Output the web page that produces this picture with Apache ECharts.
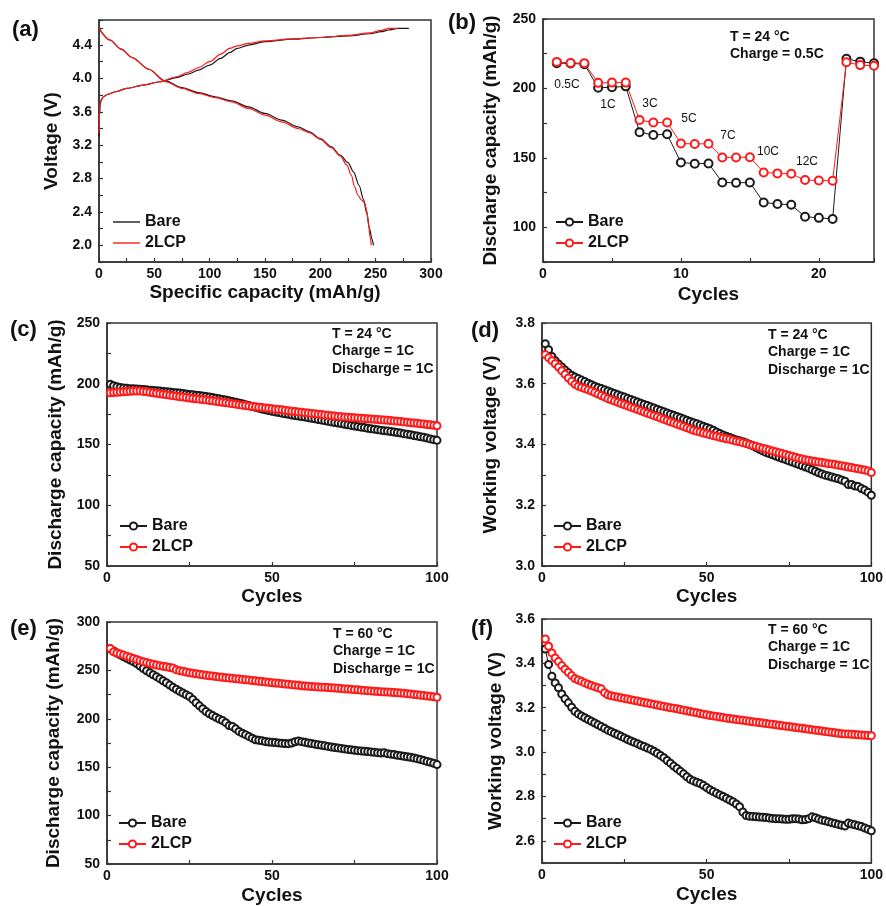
<!DOCTYPE html>
<html>
<head>
<meta charset="utf-8">
<script src="https://cdn.jsdelivr.net/npm/echarts@6/dist/echarts.min.js"></script>
<style>
html,body{margin:0;padding:0;background:#fff;}
#chart{width:886px;height:906px;}
</style>
</head>
<body>
<div id="chart"></div>
<script>
// ---------- DATA ----------
// (a) charge / discharge profiles (capacity mAh/g, voltage V)
const aBareChargeCap = [0, 0.5, 1, 2, 4, 8, 15, 25, 40, 55, 70, 80, 90, 100, 110, 118, 125, 135, 150, 175, 200, 225, 245, 255, 262, 270, 280];
const aBareChargeV   = [3.30, 3.55, 3.68, 3.74, 3.78, 3.81, 3.84, 3.88, 3.92, 3.96, 4.01, 4.05, 4.10, 4.16, 4.24, 4.31, 4.36, 4.40, 4.44, 4.47, 4.49, 4.51, 4.535, 4.56, 4.58, 4.60, 4.60];
const aLcpChargeCap  = [0, 0.5, 1, 2, 4, 8, 15, 25, 40, 55, 70, 80, 90, 100, 110, 118, 125, 135, 150, 175, 200, 225, 245, 255, 262, 270];
const aLcpChargeV    = [3.35, 3.60, 3.70, 3.75, 3.78, 3.81, 3.84, 3.88, 3.92, 3.96, 4.02, 4.07, 4.13, 4.20, 4.29, 4.36, 4.39, 4.42, 4.45, 4.475, 4.49, 4.515, 4.545, 4.575, 4.60, 4.60];
const aBareDisCap = [0, 10, 20, 30, 45, 60, 75, 90, 105, 120, 135, 150, 165, 180, 190, 200, 210, 218, 225, 230, 235, 239, 242, 244.5, 246.5, 248];
const aBareDisV   = [4.60, 4.46, 4.35, 4.25, 4.11, 3.97, 3.89, 3.83, 3.78, 3.73, 3.66, 3.58, 3.50, 3.42, 3.36, 3.28, 3.18, 3.08, 2.99, 2.88, 2.72, 2.55, 2.38, 2.20, 2.08, 2.00];
const aLcpDisCap  = [0, 10, 20, 30, 45, 60, 75, 90, 105, 120, 135, 150, 165, 180, 190, 200, 210, 218, 224, 228, 231, 234, 237, 240, 242, 243.5, 245, 246];
const aLcpDisV    = [4.60, 4.46, 4.35, 4.25, 4.11, 3.96, 3.88, 3.82, 3.77, 3.72, 3.64, 3.56, 3.48, 3.40, 3.35, 3.27, 3.17, 3.07, 2.96, 2.84, 2.70, 2.60, 2.545, 2.51, 2.42, 2.25, 2.10, 2.00];

// (b) rate capability, cycles 1..24
const bCycles = [1,2,3,4,5,6,7,8,9,10,11,12,13,14,15,16,17,18,19,20,21,22,23,24];
const bBare = [218.2, 218.0, 217.5, 200.5, 200.8, 201.5, 168.5, 166.5, 167.0, 146.7, 145.8, 146.0, 132.3, 132.0, 132.3, 117.8, 116.8, 116.2, 107.6, 106.8, 106.0, 221.3, 219.3, 218.1];
const bLcp  = [219.1, 218.4, 218.2, 204.0, 204.2, 204.2, 177.2, 175.5, 175.5, 160.4, 160.0, 160.2, 150.3, 150.3, 150.5, 139.5, 138.8, 138.5, 134.0, 133.7, 133.5, 218.9, 216.8, 216.3];
const bRateLabels = ['0.5C', '1C', '3C', '5C', '7C', '10C', '12C'];

// cycles 1..100 for (c)-(f)
const cycles100 = Array.from({length: 100}, (_, i) => i + 1);

// (c) discharge capacity, 24 °C
const cBare = [199.5,198.4,197.6,196.9,196.4,196.2,195.9,195.8,195.6,195.4,
  195.3,195.0,194.7,194.5,194.2,194.0,193.7,193.5,193.2,192.9,
  192.6,192.3,191.9,191.6,191.2,190.9,190.6,190.3,189.9,189.5,
  189.0,188.6,188.1,187.6,187.1,186.6,186.0,185.4,184.8,184.2,
  183.5,182.8,182.1,181.3,180.6,179.9,179.2,178.5,177.9,177.3,
  176.8,176.3,175.8,175.3,174.8,174.3,173.8,173.4,173.0,172.6,
  172.1,171.6,171.1,170.6,170.1,169.6,169.1,168.6,168.1,167.6,
  167.2,166.7,166.2,165.7,165.2,164.8,164.3,163.9,163.4,163.0,
  162.6,162.2,161.8,161.4,161.1,160.6,160.2,159.8,159.4,158.9,
  158.5,158.0,157.4,157.0,156.4,155.9,155.3,154.6,154.0,153.4];
const cLcp = [192.6,192.8,193.0,193.2,193.4,193.6,193.8,194.0,194.1,194.0,
  193.7,193.4,193.0,192.6,192.2,191.8,191.4,191.0,190.6,190.2,
  189.8,189.4,189.0,188.6,188.2,187.9,187.6,187.3,187.0,186.7,
  186.3,186.0,185.6,185.2,184.8,184.4,184.0,183.6,183.2,182.8,
  182.4,182.0,181.6,181.3,181.0,180.7,180.4,180.1,179.8,179.5,
  179.1,178.8,178.5,178.1,177.8,177.4,177.1,176.8,176.5,176.2,
  175.9,175.6,175.3,175.0,174.7,174.3,174.0,173.7,173.4,173.1,
  172.9,172.7,172.4,172.2,172.0,171.8,171.6,171.4,171.2,171.0,
  170.8,170.6,170.4,170.1,169.9,169.7,169.4,169.2,168.9,168.6,
  168.3,168.0,167.7,167.4,167.1,166.8,166.5,166.2,165.8,165.4];

// (d) working voltage, 24 °C
const dBare = [3.732,3.712,3.690,3.676,3.665,3.655,3.645,3.636,3.628,3.622,
  3.617,3.612,3.607,3.602,3.597,3.592,3.588,3.584,3.580,3.576,
  3.572,3.568,3.564,3.560,3.556,3.552,3.548,3.544,3.540,3.536,
  3.532,3.528,3.524,3.520,3.516,3.512,3.508,3.504,3.500,3.496,
  3.492,3.488,3.484,3.480,3.476,3.472,3.468,3.464,3.460,3.456,
  3.452,3.447,3.441,3.436,3.431,3.427,3.423,3.419,3.415,3.412,
  3.409,3.405,3.401,3.396,3.390,3.384,3.379,3.374,3.370,3.366,
  3.362,3.358,3.354,3.350,3.346,3.342,3.338,3.334,3.330,3.326,
  3.322,3.317,3.312,3.307,3.303,3.299,3.296,3.293,3.290,3.287,
  3.283,3.279,3.268,3.268,3.263,3.262,3.255,3.250,3.243,3.233];
const dLcp = [3.696,3.686,3.676,3.666,3.655,3.643,3.631,3.619,3.608,3.598,
  3.592,3.588,3.584,3.580,3.576,3.571,3.566,3.561,3.556,3.551,
  3.547,3.543,3.539,3.535,3.531,3.527,3.523,3.519,3.515,3.511,
  3.507,3.503,3.499,3.495,3.491,3.487,3.483,3.479,3.475,3.471,
  3.467,3.463,3.459,3.455,3.451,3.447,3.444,3.441,3.438,3.435,
  3.432,3.429,3.427,3.424,3.421,3.419,3.417,3.414,3.411,3.409,
  3.406,3.403,3.400,3.397,3.394,3.391,3.388,3.385,3.382,3.379,
  3.376,3.373,3.370,3.367,3.364,3.361,3.358,3.355,3.352,3.350,
  3.348,3.346,3.344,3.342,3.341,3.339,3.337,3.336,3.334,3.332,
  3.330,3.328,3.326,3.324,3.322,3.320,3.318,3.316,3.313,3.308];

// (e) discharge capacity, 60 °C
const eBare = [272.0,270.0,268.0,266.0,264.2,262.5,260.8,259.0,257.0,254.5,
  252.0,249.6,247.5,245.5,243.5,241.5,239.3,237.2,234.8,232.5,
  230.5,228.5,226.6,224.8,223.0,220.0,216.6,213.4,210.5,207.5,
  205.2,203.3,201.5,199.8,198.3,196.0,193.0,192.1,189.6,187.0,
  185.2,183.6,181.8,180.0,178.4,177.8,177.3,176.6,176.0,175.7,
  175.5,175.1,174.8,174.5,174.3,175.0,176.3,177.0,176.4,175.7,
  175.0,174.4,173.8,173.2,172.6,172.1,171.5,170.9,170.4,169.9,
  169.4,168.9,168.4,167.9,167.5,167.1,166.8,166.5,166.1,165.8,
  165.4,165.0,164.6,164.9,164.0,163.5,163.0,162.4,161.9,161.3,
  160.8,160.3,159.6,158.8,157.9,157.0,156.0,155.0,154.0,152.7];
const eLcp = [272.6,269.2,268.0,266.9,265.8,264.7,263.5,262.4,261.2,260.0,
  259.0,258.1,257.2,256.3,255.5,254.9,254.3,253.8,253.0,252.4,
  250.8,249.7,249.0,248.3,247.6,247.0,246.5,245.9,245.4,244.9,
  244.5,244.1,243.7,243.3,242.9,242.5,242.1,241.8,241.4,241.1,
  240.7,240.3,240.0,239.6,239.2,238.8,238.5,238.1,237.7,237.3,
  237.0,236.6,236.3,235.9,235.6,235.3,234.9,234.6,234.2,233.9,
  233.6,233.4,233.2,232.9,232.7,232.5,232.3,232.0,231.8,231.5,
  231.2,230.9,230.7,230.4,230.1,229.9,229.6,229.3,229.1,228.8,
  228.5,228.3,228.0,227.8,227.6,227.4,227.1,226.9,226.6,226.4,
  226.0,225.6,225.2,224.8,224.4,224.0,223.6,223.2,222.8,222.3];

// (f) working voltage, 60 °C
const fBare = [3.465,3.395,3.342,3.312,3.290,3.262,3.240,3.222,3.202,3.184,
  3.172,3.163,3.155,3.147,3.139,3.131,3.123,3.115,3.107,3.099,
  3.092,3.085,3.078,3.071,3.064,3.057,3.050,3.044,3.038,3.031,
  3.025,3.018,3.012,3.004,2.995,2.985,2.975,2.962,2.950,2.937,
  2.926,2.914,2.902,2.889,2.877,2.870,2.864,2.858,2.850,2.840,
  2.830,2.822,2.814,2.807,2.800,2.792,2.784,2.776,2.766,2.754,
  2.730,2.714,2.711,2.710,2.708,2.707,2.706,2.705,2.703,2.701,
  2.700,2.699,2.698,2.697,2.697,2.699,2.700,2.698,2.695,2.696,
  2.700,2.708,2.704,2.698,2.693,2.690,2.686,2.682,2.678,2.674,
  2.670,2.667,2.680,2.676,2.672,2.668,2.664,2.658,2.652,2.645];
const fLcp = [3.510,3.477,3.447,3.424,3.408,3.390,3.374,3.360,3.345,3.332,
  3.325,3.319,3.312,3.306,3.300,3.295,3.290,3.285,3.268,3.258,
  3.254,3.251,3.248,3.245,3.242,3.239,3.236,3.233,3.230,3.227,
  3.224,3.221,3.218,3.215,3.212,3.209,3.206,3.203,3.200,3.198,
  3.195,3.192,3.189,3.186,3.183,3.180,3.177,3.174,3.171,3.168,
  3.165,3.163,3.161,3.158,3.156,3.153,3.151,3.149,3.147,3.145,
  3.143,3.141,3.139,3.137,3.135,3.133,3.131,3.129,3.127,3.125,
  3.123,3.121,3.119,3.117,3.115,3.113,3.111,3.109,3.107,3.105,
  3.103,3.101,3.099,3.097,3.095,3.093,3.091,3.089,3.087,3.085,
  3.083,3.082,3.081,3.080,3.079,3.078,3.077,3.076,3.075,3.074];

const seriesNames = ['Bare', '2LCP'];
const panelLetters = ['(a)', '(b)', '(c)', '(d)', '(e)', '(f)'];
const annotB = ['T = 24 °C', 'Charge = 0.5C'];
const annot24 = ['T = 24 °C', 'Charge = 1C', 'Discharge = 1C'];
const annot60 = ['T = 60 °C', 'Charge = 1C', 'Discharge = 1C'];

// ---------- CHART ----------
const FONT = '"Liberation Sans", Arial, Helvetica, sans-serif';
const INK = '#111';
const AXC = '#333';
const BLACK = '#1a1a1a';
const RED = '#ff1a1a';

const zip = (xs, ys) => xs.map((x, i) => [x, ys[i]]);
const onStep = (v, step) => Math.abs(v / step - Math.round(v / step)) < 1e-6;

function mkGrid(l, t, w, h) {
  return {left: l, top: t, width: w, height: h, show: true, borderColor: AXC, borderWidth: 1.5, backgroundColor: 'transparent', containLabel: false};
}
function mkAxis(dim, gi, min, max, interval, step, dec, name, nameGap) {
  return {
    type: 'value', gridIndex: gi, min: min, max: max, interval: interval,
    position: dim === 'x' ? 'bottom' : 'left',
    name: name, nameLocation: 'middle', nameGap: nameGap,
    nameTextStyle: {fontFamily: FONT, fontWeight: 'bold', fontSize: 19, color: INK},
    axisLine: {show: true, onZero: false, lineStyle: {color: AXC, width: 1.5}},
    axisTick: {show: true, inside: true, length: 4, lineStyle: {color: AXC, width: 1.2}},
    splitLine: {show: false},
    axisLabel: {
      show: true, margin: dim === 'x' ? 5 : 7,
      fontFamily: FONT, fontWeight: 'bold', fontSize: 14, color: INK,
      showMinLabel: true, showMaxLabel: true,
      formatter: v => onStep(v, step) ? v.toFixed(dec) : ''
    }
  };
}
function lineSeries(name, gi, data, color) {
  return {
    type: 'line', name: name, xAxisIndex: gi, yAxisIndex: gi, data: data,
    symbol: 'none', smooth: 0.3, smoothMonotone: 'x',
    lineStyle: {color: color, width: 1.2}, itemStyle: {color: color},
    z: 3
  };
}
function scatterLine(name, gi, xs, ys, color, size) {
  return {
    type: 'line', name: name, xAxisIndex: gi, yAxisIndex: gi, data: zip(xs, ys),
    symbol: 'emptyCircle', symbolSize: size, showAllSymbol: true,
    lineStyle: {color: color, width: 1},
    itemStyle: {color: color, borderColor: color, borderWidth: 1.3},
    z: 3
  };
}
function mkLegend(panel, left, top, lineOnly) {
  const lg = {
    data: seriesNames.map(n => n + '@' + panel),
    formatter: n => n.split('@')[0],
    orient: 'vertical', left: left, top: top, padding: 0,
    itemWidth: 27, itemHeight: 9, itemGap: 5, selectedMode: false,
    textStyle: {fontFamily: FONT, fontWeight: 'bold', fontSize: 16, color: INK}
  };
  if (lineOnly) {
    lg.icon = 'rect';
    lg.itemHeight = 1.4;
    lg.itemGap = 5;
  }
  return lg;
}
function txt(s, x, y, size, weight, align) {
  return {type: 'text', x: x, y: y, silent: true,
    style: {text: s, fill: INK, font: (weight || 'bold') + ' ' + size + 'px ' + FONT,
      textAlign: align || 'left', textVerticalAlign: 'middle'}};
}

const grids = [
  mkGrid(99, 20, 332, 242),
  mkGrid(543, 19, 331, 243),
  mkGrid(107, 323, 330, 243),
  mkGrid(542, 323, 332, 243),
  mkGrid(107, 622, 330, 243),
  mkGrid(542, 619, 332, 244)
];
const xAxes = [
  mkAxis('x', 0, 0, 300, 25, 50, 0, 'Specific capacity (mAh/g)', 21),
  mkAxis('x', 1, 0, 24, 5, 10, 0, 'Cycles', 23),
  mkAxis('x', 2, 0, 100, 25, 50, 0, 'Cycles', 21),
  mkAxis('x', 3, 0, 100, 25, 50, 0, 'Cycles', 21),
  mkAxis('x', 4, 0, 100, 25, 50, 0, 'Cycles', 22),
  mkAxis('x', 5, 0, 100, 25, 50, 0, 'Cycles', 22)
];
const yAxes = [
  mkAxis('y', 0, 1.8, 4.7, 0.2, 0.4, 1, 'Voltage (V)', 38),
  mkAxis('y', 1, 75, 250, 25, 50, 0, 'Discharge capacity (mAh/g)', 43),
  mkAxis('y', 2, 50, 250, 25, 50, 0, 'Discharge capacity (mAh/g)', 42),
  mkAxis('y', 3, 3.0, 3.8, 0.1, 0.2, 1, 'Working voltage (V)', 42),
  mkAxis('y', 4, 50, 300, 25, 50, 0, 'Discharge capacity (mAh/g)', 44),
  mkAxis('y', 5, 2.5, 3.6, 0.1, 0.2, 1, 'Working voltage (V)', 37)
];

const series = [
  lineSeries('Bare@a', 0, zip(aBareChargeCap, aBareChargeV), BLACK),
  lineSeries('Bare@a', 0, zip(aBareDisCap, aBareDisV), BLACK),
  lineSeries('2LCP@a', 0, zip(aLcpChargeCap, aLcpChargeV), RED),
  lineSeries('2LCP@a', 0, zip(aLcpDisCap, aLcpDisV), RED),
  scatterLine('Bare@b', 1, bCycles, bBare, BLACK, 8),
  scatterLine('2LCP@b', 1, bCycles, bLcp, RED, 8),
  scatterLine('Bare@c', 2, cycles100, cBare, BLACK, 7),
  scatterLine('2LCP@c', 2, cycles100, cLcp, RED, 7),
  scatterLine('Bare@d', 3, cycles100, dBare, BLACK, 7),
  scatterLine('2LCP@d', 3, cycles100, dLcp, RED, 7),
  scatterLine('Bare@e', 4, cycles100, eBare, BLACK, 7),
  scatterLine('2LCP@e', 4, cycles100, eLcp, RED, 7),
  scatterLine('Bare@f', 5, cycles100, fBare, BLACK, 7),
  scatterLine('2LCP@f', 5, cycles100, fLcp, RED, 7)
];

const legends = [
  mkLegend('a', 113, 214, true),
  mkLegend('b', 555, 214),
  mkLegend('c', 119, 518),
  mkLegend('d', 553, 518),
  mkLegend('e', 118, 815),
  mkLegend('f', 553, 815)
];

// annotation text placement (pixels)
const letterPos = [[12, 30], [448, 23], [10, 330], [471, 331], [10, 629], [471, 629]];
const ratePos = [[567, 85], [608, 105], [650, 104], [689, 119], [728, 136], [768, 152], [807, 162]];
const graphics = [];
panelLetters.forEach((s, i) => graphics.push(txt(s, letterPos[i][0], letterPos[i][1], 22, 'bold')));
bRateLabels.forEach((s, i) => graphics.push(txt(s, ratePos[i][0], ratePos[i][1], 12, 'normal', 'center')));
annotB.forEach((s, i) => graphics.push(txt(s, 730, 37 + i * 17, 14)));
annot24.forEach((s, i) => graphics.push(txt(s, 332, 334 + i * 17.5, 14)));
annot24.forEach((s, i) => graphics.push(txt(s, 768, 335 + i * 17.5, 14)));
annot60.forEach((s, i) => graphics.push(txt(s, 333, 634 + i * 17.5, 14)));
annot60.forEach((s, i) => graphics.push(txt(s, 768, 630 + i * 17.5, 14)));

const chart = echarts.init(document.getElementById('chart'), null, {renderer: 'canvas'});
chart.setOption({
  animation: false,
  backgroundColor: '#fff',
  grid: grids, xAxis: xAxes, yAxis: yAxes,
  legend: legends,
  series: series,
  graphic: graphics
});
</script>
</body>
</html>
